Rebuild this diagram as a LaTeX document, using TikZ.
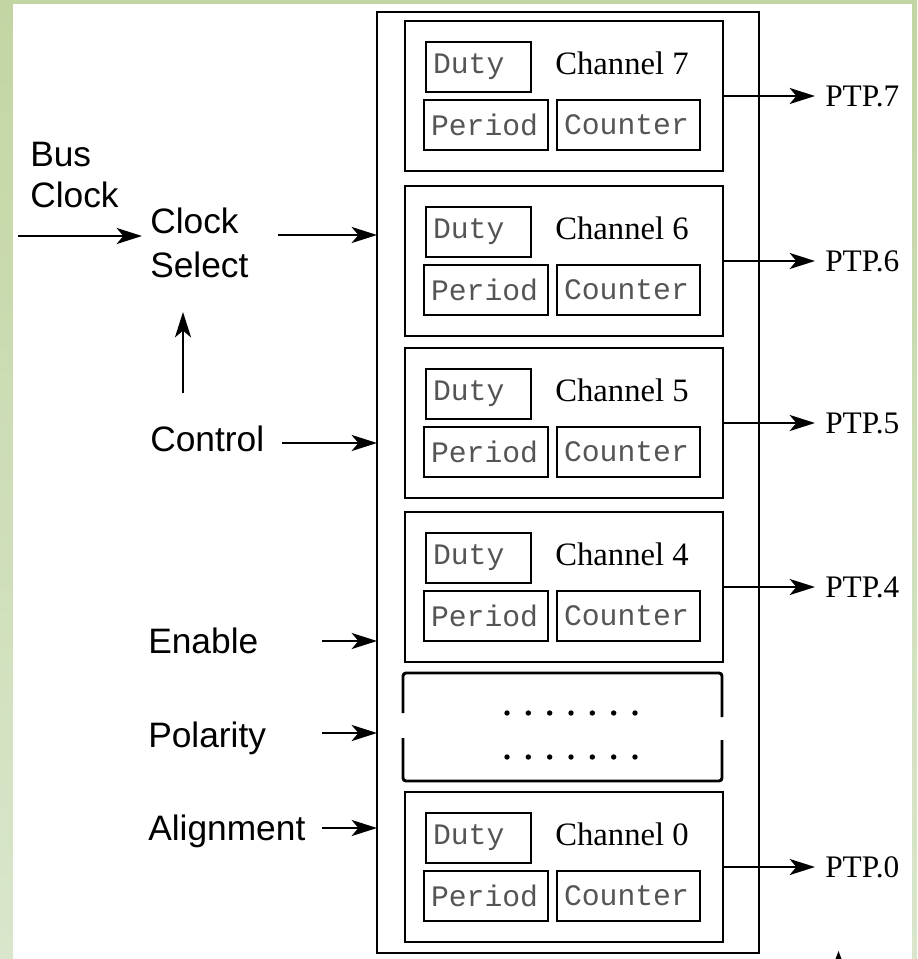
\documentclass[tikz,border=0pt]{standalone}
\usepackage{fontspec}
\setmainfont{Liberation Serif}
\setsansfont{Liberation Sans}
\setmonofont{Liberation Mono}
\usetikzlibrary{arrows.meta}

% one unit of the drawing grid
\newdimen\pxu \pxu=0.75pt

\definecolor{frametop}{HTML}{C3D5A3}
\definecolor{framebot}{HTML}{D9E6CB}
\definecolor{regtext}{HTML}{555555}

\tikzset{
  arr/.style={line width=2pt, -{Stealth[length=19pt,width=12pt,inset=5pt]}},
  outerbox/.style={draw, line width=2pt},
  chanbox/.style={draw, line width=2.2pt, inner sep=0pt, outer sep=0pt,
    minimum width=318\pxu, minimum height=150\pxu, anchor=north west},
  regbox/.style={draw, line width=2.2pt, outer sep=0pt, inner xsep=7\pxu, inner ysep=0pt,
    minimum height=50\pxu, anchor=north west, align=left,
    font=\fontsize{22.3}{26}\ttfamily, text=regtext},
  chanlabel/.style={inner sep=0pt, font=\fontsize{24.5}{28}\selectfont},
  ptplabel/.style={inner sep=0pt, anchor=west, font=\fontsize{23.5}{28}\selectfont},
  sidelabel/.style={inner sep=0pt, anchor=base west, font=\fontsize{26.5}{31}\sffamily},
}

% one PWM channel: name, top edge, channel number
\newcommand\pwmchan[3]{%
  \node[chanbox] (#1) at (405,#2) {};
  \node[regbox, text width=91\pxu]  (#1duty)   at ([shift={(21,21)}]#1.north west)  {Duty};
  \node[regbox, text width=110\pxu] (#1period) at ([shift={(19,79)}]#1.north west)  {Period};
  \node[regbox, text width=129\pxu] (#1count)  at ([shift={(152,79)}]#1.north west) {Counter};
  \node[chanlabel] (#1name) at ([shift={(217,42)}]#1.north west) {Channel #3};
  \node[ptplabel] (#1out) at ([xshift=102\pxu]#1.east) {PTP.#3};
  \draw[arr] (#1.east) -- ([xshift=-10\pxu]#1out.west);
}

\begin{document}
\begin{tikzpicture}[x=0.75pt,y=-0.75pt]
  % page with its green frame
  \useasboundingbox (0,0) rectangle (917,959);
  \shade[top color=frametop, bottom color=framebot] (0,0) rectangle (917,959);
  \fill[white] (13,4) rectangle (912,959);

  % PWM block
  \draw[outerbox] (377,12) rectangle (759,953);
  \node[inner sep=0pt, outer sep=0pt, minimum width=382\pxu, minimum height=941\pxu,
        anchor=north west] (pwm) at (377,12) {};

  \pwmchan{ch7}{21}{7}
  \pwmchan{ch6}{186}{6}
  \pwmchan{ch5}{348}{5}
  \pwmchan{ch4}{512}{4}
  \pwmchan{ch0}{792}{0}

  % the channels left out
  \begin{scope}[line width=2.2pt, rounded corners=3\pxu]
    \draw (403,713) -- (403,673) -- (722,673) -- (722,717);
    \draw (403,738) -- (403,781) -- (722,781) -- (722,740);
  \end{scope}
  \foreach \k in {0,...,6} {
    \fill ({507+21.33*\k},713) circle (2.7\pxu);
    \fill ({507+21.33*\k},757) circle (2.7\pxu);
  }

  % inputs (two-line labels sit on the baseline of their last line)
  \node[sidelabel, align=left, font=\fontsize{26.5}{30.75}\sffamily] (busclk) at (30,208) {Bus\\Clock};
  \node[sidelabel, align=left, font=\fontsize{26.5}{33}\sffamily] (csel) at (150,277) {Clock\\Select};
  \node[sidelabel] (ctl)   at (150,451) {Control};
  \node[sidelabel] (ena)   at (148,653) {Enable};
  \node[sidelabel] (pol)   at (148,747) {Polarity};
  \node[sidelabel] (align) at (148,840) {Alignment};

  \coordinate (busin)  at (18,236);
  \coordinate (cselout) at (278,235);
  \coordinate (ctlup)  at (183,393);
  \coordinate (ctltip) at (183,312);
  \coordinate (ctlout) at (282,443);
  \coordinate (enaout) at (322,641);
  \coordinate (polout) at (322,733);
  \coordinate (alnout) at (322,828);

  \draw[arr] (busin) -- (busin -| csel.west) [shorten >=8\pxu];
  \draw[arr] (cselout) -- (cselout -| pwm.west);
  \draw[arr] (ctlup) -- (ctltip);
  \draw[arr] (ctlout) -- (ctlout -| pwm.west);
  \draw[arr] (enaout) -- (enaout -| pwm.west);
  \draw[arr] (polout) -- (polout -| pwm.west);
  \draw[arr] (alnout) -- (alnout -| pwm.west);

  % small tip at the lower edge
  \fill (835.5,959) -- (838.5,951) -- (841.5,959) -- cycle;
\end{tikzpicture}
\end{document}
